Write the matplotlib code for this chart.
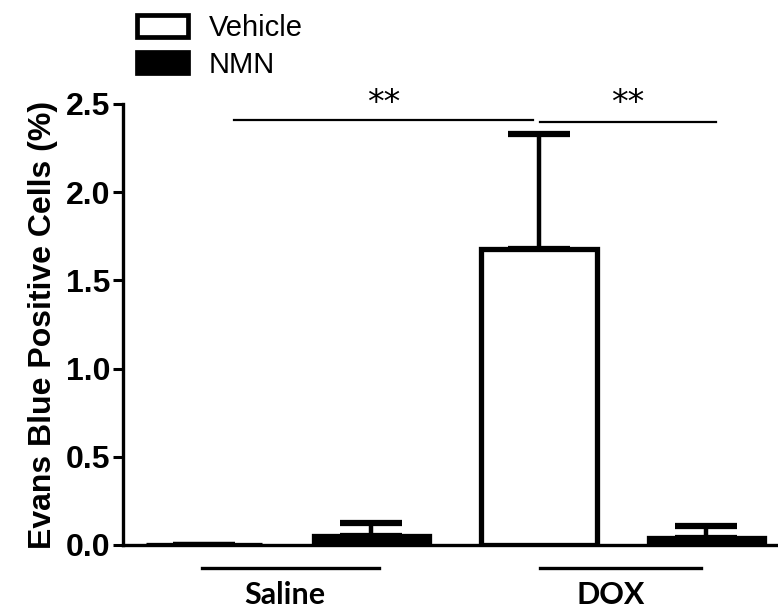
# Evans Blue positive cells, Saline vs DOX, with and without NMN
import matplotlib
matplotlib.use('Agg')
import matplotlib.pyplot as plt
from matplotlib.patches import Patch

# data
groups = ['Saline', 'DOX']
treatments = ['Vehicle', 'NMN']
vehicle_mean = [0.0, 1.68]
vehicle_sem = [0.0, 0.65]
nmn_mean = [0.05, 0.04]
nmn_sem = [0.075, 0.07]
y_ticks = [0.0, 0.5, 1.0, 1.5, 2.0, 2.5]

plt.rcParams['font.family'] = ['Liberation Sans', 'DejaVu Sans']

fig = plt.figure(figsize=(7.78, 6.10), dpi=100)
ax = fig.add_axes([0.1581, 0.1066, 0.8419, 0.7230])

# bar positions: vehicle / NMN pairs for each group
x_veh = [0, 2]
x_nmn = [1, 3]
w = 0.69
err_kw = dict(ecolor='black', elinewidth=3.2, capsize=22, capthick=4.5)

ax.bar(x_veh, vehicle_mean, width=w, color='white', edgecolor='black',
       linewidth=3.8, zorder=1.5)
ax.errorbar(x_veh, vehicle_mean, yerr=[[0, 0], vehicle_sem], fmt='none',
            zorder=1, **err_kw)
ax.bar(x_nmn, nmn_mean, width=w, color='black', edgecolor='black',
       linewidth=3.8, zorder=2)
ax.errorbar(x_nmn, nmn_mean, yerr=[[0, 0], nmn_sem], fmt='none',
            zorder=1, **err_kw)

ax.set_xlim(-0.4836, 3.427)
ax.set_ylim(0, 2.5)
ax.set_yticks(y_ticks)
ax.set_yticklabels([f'{v:.1f}' for v in y_ticks], fontsize=23, fontweight='bold')
ax.set_xticks([])
ax.tick_params(axis='y', length=7, width=2.2, pad=2)

for side in ['top', 'right']:
    ax.spines[side].set_visible(False)
ax.spines['left'].set_linewidth(2.4)
ax.spines['bottom'].set_linewidth(2.4)
ax.spines['bottom'].set_zorder(3)

ax.set_ylabel('Evans Blue Positive Cells (%)', fontsize=23, fontweight='bold',
              labelpad=6)

# group underlines and labels
line_y = -0.13
ax.plot([-0.012, 1.045], [line_y, line_y], color='black', lw=2.4, clip_on=False)
ax.plot([2.006, 2.967], [line_y, line_y], color='black', lw=2.4, clip_on=False)
ax.text(0.48, -0.285, groups[0], ha='center', va='center', fontsize=22,
        fontweight='bold', family='Lato')
ax.text(2.43, -0.285, groups[1], ha='center', va='center', fontsize=22,
        fontweight='bold', family='Lato')

# significance brackets
ax.plot([0.18, 1.964], [2.41, 2.41], color='black', lw=1.6, clip_on=False)
ax.plot([2.006, 3.057], [2.40, 2.40], color='black', lw=1.6, clip_on=False)
ax.text(1.07, 2.50, '**', ha='center', va='center', fontsize=24,
        family='DejaVu Sans', clip_on=False)
ax.text(2.53, 2.50, '**', ha='center', va='center', fontsize=24,
        family='DejaVu Sans', clip_on=False)

# legend
handles = [Patch(facecolor='white', edgecolor='black', linewidth=3.4),
           Patch(facecolor='black', edgecolor='black', linewidth=3.4)]
fig.legend(handles, treatments, loc='upper left', bbox_to_anchor=(137 / 778, 1 - 14 / 610),
           frameon=False, fontsize=21, handlelength=1.75, handleheight=0.75,
           handletextpad=0.7, labelspacing=0.3, borderpad=0, borderaxespad=0)

fig.savefig('out.png', dpi=100)
